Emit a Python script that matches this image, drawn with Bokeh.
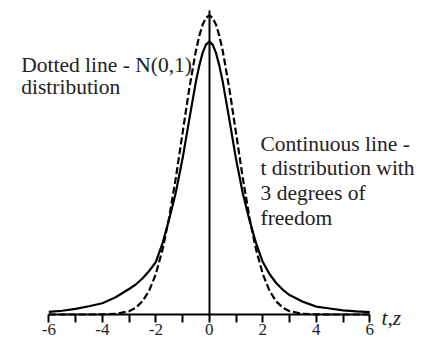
from bokeh.plotting import figure
from bokeh.models import LinearAxis, FixedTicker, Label, Range1d, ColumnDataSource
from bokeh.embed import file_html
from bokeh.resources import INLINE

# ---- data ----
x_vals = [-6, -5.5, -5, -4.5, -4, -3.5, -3, -2.75, -2.5, -2.25, -2, -1.75, -1.5,
          -1.25, -1, -0.75, -0.5, -0.375, -0.25, -0.125, 0, 0.125, 0.25, 0.375,
          0.5, 0.75, 1, 1.25, 1.5, 1.75, 2, 2.25, 2.5, 2.75, 3, 3.5, 4, 4.5, 5,
          5.5, 6]

normal_vals = [0.0, 0.0, 0.0, 0.0, 0.0001, 0.0009, 0.0044, 0.0091, 0.0175, 0.0317,
               0.054, 0.0863, 0.1295, 0.1826, 0.242, 0.3011, 0.3521, 0.3717, 0.3867,
               0.3958, 0.3989, 0.3958, 0.3867, 0.3717, 0.3521, 0.3011, 0.242, 0.1826,
               0.1295, 0.0863, 0.054, 0.0317, 0.0175, 0.0091, 0.0044, 0.0009, 0.0001,
               0.0, 0.0, 0.0, 0.0]

t_vals = [0.0036, 0.005, 0.0075, 0.011, 0.015, 0.023, 0.034, 0.040, 0.048, 0.058,
          0.070, 0.095, 0.127, 0.163, 0.208, 0.260, 0.311, 0.332, 0.349, 0.360,
          0.364, 0.360, 0.349, 0.332, 0.311, 0.260, 0.207, 0.162, 0.126, 0.095,
          0.070, 0.054, 0.042, 0.033, 0.026, 0.017, 0.0105, 0.008, 0.0055, 0.0042,
          0.0032]

tick_values = [-6, -4, -2, 0, 2, 4, 6]
minor_tick_values = [-5, -3, -1, 1, 3, 5]
tick_labels = ["-6", "-4", "-2", "0", "2", "4", "6"]
axis_extent = (-6, 6)
centre_line_extent = (0, 0.4056)

left_note = ["Dotted line - N(0,1)", "distribution"]
right_note = ["Continuous line -", "t distribution with", "3 degrees of", "freedom"]
axis_name = "t,z"

SERIF = "'Liberation Serif', 'Times New Roman', Times, serif"

# ---- figure ----
p = figure(width=429, height=342, output_backend="svg", toolbar_location=None,
           x_axis_location=None, y_axis_location=None,
           x_range=Range1d(-7.806, 8.232), y_range=Range1d(-0.03735, 0.4189),
           min_border=0, min_border_left=0, min_border_right=0,
           min_border_top=0, min_border_bottom=0)
p.outline_line_color = None
p.xgrid.visible = False
p.ygrid.visible = False
p.background_fill_color = "white"
p.border_fill_color = "white"

src = ColumnDataSource(dict(x=x_vals, n=normal_vals, t=t_vals))
p.line("x", "t", source=src, line_color="black", line_width=2.2)
p.line("x", "n", source=src, line_color="black", line_width=2.2, line_dash="7 3")

xaxis = LinearAxis(fixed_location=0, bounds=axis_extent,
                   ticker=FixedTicker(ticks=tick_values, minor_ticks=minor_tick_values),
                   major_label_overrides={v: s for v, s in zip(tick_values, tick_labels)})
xaxis.axis_line_width = 2
xaxis.axis_line_color = "black"
xaxis.major_tick_in = 0
xaxis.major_tick_out = 8
xaxis.minor_tick_in = 0
xaxis.minor_tick_out = 8
xaxis.major_tick_line_width = 2
xaxis.minor_tick_line_width = 2
xaxis.major_label_standoff = 1
xaxis.major_label_text_font = SERIF
xaxis.major_label_text_font_size = "17px"
xaxis.major_label_text_color = "#222222"
p.add_layout(xaxis, "below")

yaxis = LinearAxis(fixed_location=0, bounds=centre_line_extent,
                   ticker=FixedTicker(ticks=[]))
yaxis.axis_line_width = 2
yaxis.axis_line_color = "black"
yaxis.major_tick_out = 0
yaxis.major_tick_in = 0
yaxis.minor_tick_out = 0
yaxis.minor_tick_in = 0
yaxis.major_label_text_font_size = "0px"
p.add_layout(yaxis, "left")

size = "21.5px"
for txt, yy in zip(left_note, [0.3322, 0.3032]):
    p.add_layout(Label(x=-7.032, y=yy, text=txt, text_font=SERIF, text_font_size=size,
                       text_color="#222222", text_baseline="alphabetic"))
for txt, yy in zip(right_note, [0.2281, 0.1948, 0.1621, 0.1294]):
    p.add_layout(Label(x=1.914, y=yy, text=txt, text_font=SERIF, text_font_size=size,
                       text_color="#222222", text_baseline="alphabetic"))
p.add_layout(Label(x=6.437, y=-0.0053, text=axis_name, text_font=SERIF,
                   text_font_size=size, text_font_style="italic",
                   text_color="#222222", text_baseline="alphabetic"))

open("out.html", "w").write(file_html(p, INLINE))
